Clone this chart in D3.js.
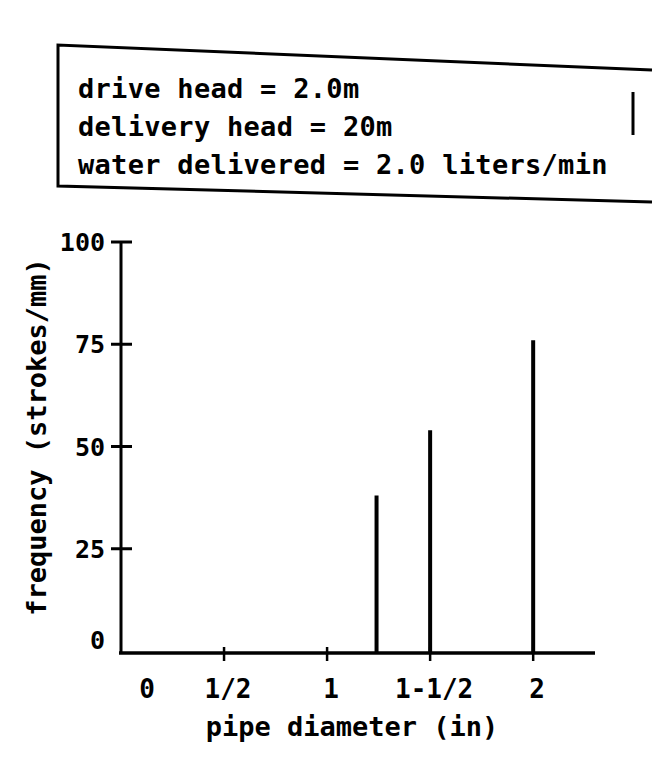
<!DOCTYPE html>
<html>
<head>
<meta charset="utf-8">
<script src="https://cdn.jsdelivr.net/npm/d3@7"></script>
<style>
  body { margin: 0; background: #fff; }
  svg { display: block; }
  text { font-family: "DejaVu Sans Mono", monospace; font-weight: bold; fill: #000; }
</style>
</head>
<body>
<svg id="chart"></svg>
<script>
// data
var noteLines = ["drive head = 2.0m", "delivery head = 20m", "water delivered = 2.0 liters/min"];
var diameters = [1.24, 1.5, 2];        // pipe diameter (in)
var frequencies = [38, 54, 76];        // strokes/min
var xTickValues = [0, 0.5, 1, 1.5, 2];
var xTickLabels = ["0", "1/2", "1", "1-1/2", "2"];
var yTickValues = [0, 25, 50, 75, 100];

var width = 672, height = 771;

var svg = d3.select("#chart")
  .attr("width", width)
  .attr("height", height);

// note box (open on the right, like the scan)
var box = svg.append("g");
box.append("path")
  .attr("d", "M652,70 L58,45 L58,186 L652,202")
  .attr("fill", "none")
  .attr("stroke", "#000")
  .attr("stroke-width", 3);
box.append("line")
  .attr("x1", 633).attr("x2", 633)
  .attr("y1", 92).attr("y2", 135)
  .attr("stroke", "#000")
  .attr("stroke-width", 3);

box.selectAll("text.note")
  .data(noteLines)
  .enter()
  .append("text")
    .attr("class", "note")
    .attr("x", 78)
    .attr("y", function(d, i) { return 98 + i * 38 })
    .style("font-size", "27px")
    .style("letter-spacing", "0.3px")
    .text(function(d) { return d });

// scales
var x = d3.scaleLinear().domain([0, 2.3]).range([121, 595]);
var y = d3.scaleLinear().domain([0, 100]).range([651, 242]);

var plot = svg.append("g");

// y axis line and ticks
plot.append("line")
  .attr("x1", x(0)).attr("x2", x(0))
  .attr("y1", y(100)).attr("y2", y(0) + 2)
  .attr("stroke", "#000")
  .attr("stroke-width", 3);

plot.selectAll("line.ytick")
  .data(yTickValues.slice(1))
  .enter()
  .append("line")
    .attr("x1", x(0) - 10).attr("x2", x(0) + 11)
    .attr("y1", function(d) { return y(d) })
    .attr("y2", function(d) { return y(d) })
    .attr("stroke", "#000")
    .attr("stroke-width", 3);

plot.selectAll("text.ylab")
  .data(yTickValues)
  .enter()
  .append("text")
    .attr("x", 105)
    .attr("y", function(d) { return d == 0 ? y(d) - 11 : y(d) })
    .attr("dy", "0.36em")
    .attr("text-anchor", "end")
    .style("font-size", "25px")
    .text(function(d) { return d });

// x axis line and ticks
plot.append("line")
  .attr("x1", x(0) - 2).attr("x2", x(2.3))
  .attr("y1", y(0) + 2).attr("y2", y(0) + 2)
  .attr("stroke", "#000")
  .attr("stroke-width", 3.5);

plot.selectAll("line.xtick")
  .data(xTickValues.slice(1))
  .enter()
  .append("line")
    .attr("x1", function(d) { return x(d) })
    .attr("x2", function(d) { return x(d) })
    .attr("y1", y(0) - 4).attr("y2", y(0) + 10)
    .attr("stroke", "#000")
    .attr("stroke-width", 2.5);

plot.selectAll("text.xlab")
  .data(xTickValues)
  .enter()
  .append("text")
    .attr("x", function(d, i) { return x(d) + (i == 0 ? 26 : 4) })
    .attr("y", 698)
    .attr("text-anchor", "middle")
    .style("font-size", "26px")
    .text(function(d, i) { return xTickLabels[i] });

// the bars are drawn as plain vertical strokes
plot.selectAll("line.bar")
  .data(diameters)
  .enter()
  .append("line")
    .attr("x1", function(d) { return x(d) })
    .attr("x2", function(d) { return x(d) })
    .attr("y1", y(0) + 2)
    .attr("y2", function(d, i) { return y(frequencies[i]) })
    .attr("stroke", "#000")
    .attr("stroke-width", 4);

// axis titles
svg.append("text")
  .attr("x", 352)
  .attr("y", 736)
  .attr("text-anchor", "middle")
  .style("font-size", "27px")
  .text("pipe diameter (in)");

svg.append("text")
  .attr("transform", "translate(46,437) rotate(-90)")
  .attr("text-anchor", "middle")
  .style("font-size", "27px")
  .text("frequency (strokes/mm)");
</script>
</body>
</html>
